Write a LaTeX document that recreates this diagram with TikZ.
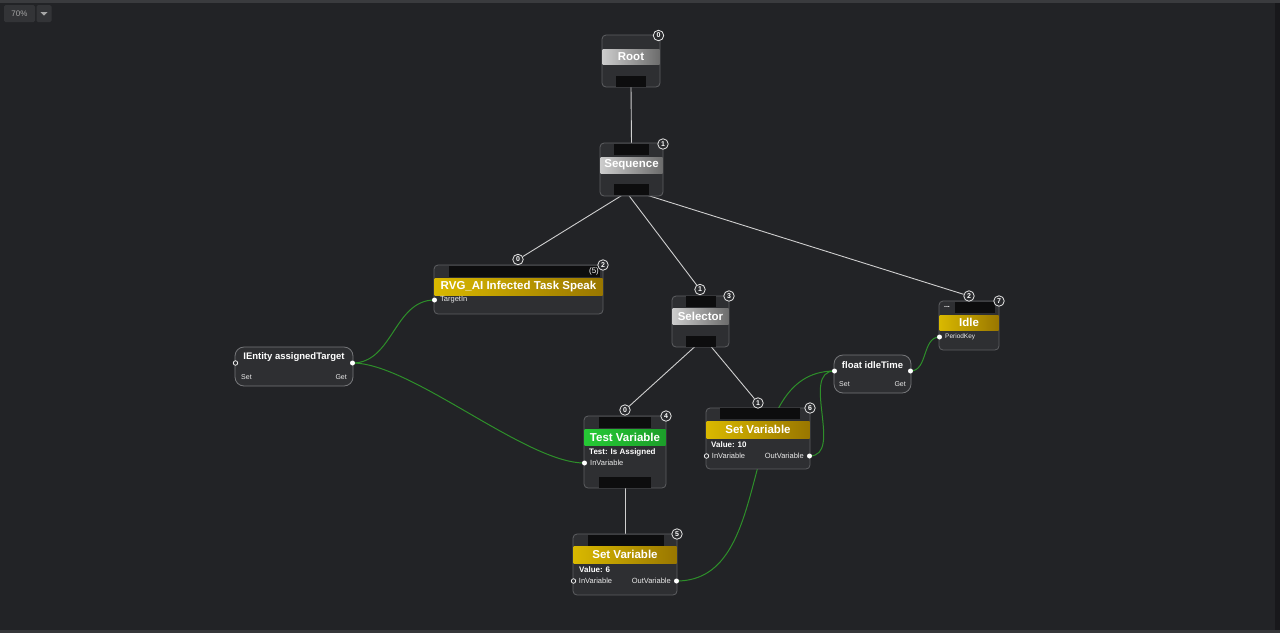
\documentclass[tikz,border=0pt]{standalone}
\usepackage{fontspec}
\setmainfont{Liberation Sans}
\usetikzlibrary{positioning}
\pgfdeclarelayer{bglayer}
\pgfdeclarelayer{background}
\pgfsetlayers{bglayer,background,main}
\definecolor{bgcol}{HTML}{222326}
\definecolor{barcol}{HTML}{3A3B3E}
\definecolor{boxfill}{HTML}{2E2F32}
\definecolor{boxline}{HTML}{5E5F62}
\definecolor{portcol}{HTML}{0D0D0E}
\definecolor{linkcol}{HTML}{CFCFCF}
\definecolor{wirecol}{HTML}{2E8F2A}
\definecolor{badgefill}{HTML}{2A2B2E}
\definecolor{btnfill}{HTML}{333437}
\definecolor{greenl}{HTML}{26C935}
\definecolor{greenr}{HTML}{1C9E2A}
\tikzset{
  box/.style={draw=boxline,fill=boxfill,rounded corners=4pt,line width=0.8pt,inner sep=0pt,outer sep=0pt},
  varbox/.style={box,rounded corners=9pt,draw=boxline!85!white},
  port/.style={fill=portcol,inner sep=0pt,outer sep=0pt,minimum height=11pt},
  ttl/.style={inner sep=0pt,outer sep=0pt,text=white,minimum height=16pt,font=\fontsize{11.5}{12}\selectfont\bfseries},
  gtitle/.style={ttl,left color=gray!40!white,right color=gray!85!black},
  ytitle/.style={ttl,minimum height=17pt,left color=yellow!70!orange!85!black,right color=yellow!55!orange!60!black},
  ntitle/.style={ttl,left color=greenl,right color=greenr},
  vttl/.style={inner sep=0pt,text=white,font=\fontsize{9.5}{10}\selectfont\bfseries},
  idx/.style={circle,draw=white!90!black,line width=0.8pt,fill=badgefill,inner sep=0pt,minimum size=10.5pt,text=white,font=\fontsize{7}{7}\selectfont\bfseries},
  pdot/.style={circle,fill=white,inner sep=0pt,outer sep=0pt,minimum size=5pt},
  hdot/.style={pdot,draw=white,fill=boxfill,line width=0.7pt,minimum size=4.5pt},
  lbl/.style={inner sep=0pt,text=white!92!black,font=\fontsize{7.5}{8}\selectfont},
  blbl/.style={inner sep=0pt,text=white,font=\fontsize{8}{9}\selectfont\bfseries},
  link/.style={draw=linkcol,line width=0.9pt},
  wire/.style={draw=wirecol,line width=1pt},
  btn/.style={fill=btnfill,inner sep=0pt,rounded corners=1.5pt,text=gray!70!white,font=\fontsize{8}{9}\selectfont},
}
\begin{document}
\begin{tikzpicture}[x=1pt,y=-1pt]
\begin{pgfonlayer}{bglayer}
\fill[bgcol] (0,0) rectangle (1280,633);
\fill[barcol] (0,0) rectangle (1280,2.5);
\fill[black!30!bgcol] (1275,2.5) rectangle (1280,633);
\fill[barcol!80!bgcol] (0,630) rectangle (1280,633);
\end{pgfonlayer}
\useasboundingbox (0,0) rectangle (1280,633);
% zoom button
\node[btn,minimum width=31pt,minimum height=17pt] (zoom) at (19.5,13.5) {70\%};
\node[btn,minimum width=15pt,minimum height=17pt] (zoomdd) at (44,13.5) {};
\fill[gray!70!white] (40.5,12) -- (47.5,12) -- (44,15.5) -- cycle;
% Root
\node[box,minimum width=58pt,minimum height=52pt] (root) at (631,61) {};
\node[gtitle,minimum width=57pt,minimum height=15pt] (root-t) at (631,56.5) {Root};
\node[port,minimum width=30pt] (root-out) at (631,81.5) {};
\node[idx] (root-idx) at (658.5,35.5) {0};
% Sequence
\node[box,minimum width=63pt,minimum height=53pt] (seq) at (631.5,169.5) {};
\node[port,minimum width=35pt] (seq-in) at (631.5,149.5) {};
\node[gtitle,minimum width=62pt] (seq-t) at (631.5,165) {Sequence};
\node[port,minimum width=35pt] (seq-out) at (631.5,189.5) {};
\node[idx] (seq-idx) at (663,144) {1};
% RVG task
\node[box,minimum width=169pt,minimum height=49pt] (rvg) at (518.5,289.5) {};
\node[port,minimum width=151pt] (rvg-in) at (524.5,271.5) {};
\node[inner sep=0pt,text=white,font=\fontsize{8}{9}\selectfont] (rvg-n) at (594,271.5) {(5)};
\node[ytitle,minimum width=168pt] (rvg-t) at (518.5,286.5) {RVG\_AI Infected Task Speak};
\node[pdot] (rvg-tin) at (434.5,300) {};
\node[lbl,anchor=west,right=3pt of rvg-tin] (rvg-tin-l) {TargetIn};
\node[idx] (rvg-idx) at (603,265) {2};
\node[idx] (rvg-pos) at (518,259.5) {0};
% Selector
\node[box,minimum width=57pt,minimum height=51pt] (sel) at (700.5,321.5) {};
\node[port,minimum width=30pt] (sel-in) at (701,301) {};
\node[gtitle,minimum width=56pt] (sel-t) at (700.5,316) {Selector};
\node[port,minimum width=30pt] (sel-out) at (701,341) {};
\node[idx] (sel-idx) at (729,296) {3};
\node[idx] (sel-pos) at (700,289.5) {1};
% Idle
\node[box,minimum width=60pt,minimum height=49pt] (idle) at (969,325.5) {};
\node[port,minimum width=40pt] (idle-in) at (975,307.5) {};
\node[inner sep=0pt,text=white,font=\fontsize{7}{7}\selectfont\bfseries] (idle-dots) at (947,306.5) {...};
\node[ytitle,minimum width=59pt,minimum height=15pt] (idle-t) at (969,322.5) {Idle};
\node[pdot] (idle-pk) at (939.5,337) {};
\node[lbl,right=3pt of idle-pk,font=\fontsize{6.5}{7}\selectfont] (idle-pk-l) {PeriodKey};
\node[idx] (idle-idx) at (999,301) {7};
\node[idx] (idle-pos) at (969,296) {2};
% IEntity assignedTarget
\node[varbox,minimum width=118pt,minimum height=39pt] (ie) at (294,366.5) {};
\node[vttl] (ie-t) at (294,357) {IEntity assignedTarget};
\node[hdot] (ie-set) at (235.5,363) {};
\node[pdot] (ie-get) at (352.5,363) {};
\node[lbl,anchor=west,font=\fontsize{7}{7}\selectfont] (ie-set-l) at (241,377) {Set};
\node[lbl,anchor=east,font=\fontsize{7}{7}\selectfont] (ie-get-l) at (347,377) {Get};
% float idleTime
\node[varbox,minimum width=77pt,minimum height=38pt] (fi) at (872.5,374) {};
\node[vttl] (fi-t) at (872.5,365) {float idleTime};
\node[pdot] (fi-set) at (834.5,371) {};
\node[pdot] (fi-get) at (910.5,371) {};
\node[lbl,anchor=west,font=\fontsize{7}{7}\selectfont] (fi-set-l) at (839,384) {Set};
\node[lbl,anchor=east,font=\fontsize{7}{7}\selectfont] (fi-get-l) at (906,384) {Get};
% Test Variable
\node[box,minimum width=82pt,minimum height=72pt] (tv) at (625,452) {};
\node[port,minimum width=52pt] (tv-in) at (625,422.5) {};
\node[ntitle,minimum width=81pt] (tv-t) at (625,437) {Test Variable};
\node[blbl,anchor=west] (tv-test) at (589,452) {Test: Is Assigned};
\node[pdot] (tv-var) at (584.5,463) {};
\node[lbl,right=3pt of tv-var] (tv-var-l) {InVariable};
\node[port,minimum width=52pt] (tv-out) at (625,482.5) {};
\node[idx] (tv-idx) at (666,416) {4};
\node[idx] (tv-pos) at (625,410) {0};
% Set Variable (Value: 10)
\node[box,minimum width=104pt,minimum height=61pt] (sva) at (758,438.5) {};
\node[port,minimum width=80pt] (sva-in) at (760,413.5) {};
\node[ytitle,minimum width=103pt] (sva-t) at (758,429.5) {Set Variable};
\node[blbl,anchor=west] (sva-val) at (711,445) {Value: 10};
\node[hdot] (sva-var) at (706.5,456) {};
\node[pdot] (sva-out) at (809.5,456) {};
\node[lbl,right=3pt of sva-var] (sva-var-l) {InVariable};
\node[lbl,left=3pt of sva-out] (sva-out-l) {OutVariable};
\node[idx] (sva-idx) at (810,408) {6};
\node[idx] (sva-pos) at (758,403) {1};
% Set Variable (Value: 6)
\node[box,minimum width=104pt,minimum height=61pt] (svb) at (625,564.5) {};
\node[port,minimum width=76pt] (svb-in) at (626,540) {};
\node[ytitle,minimum width=103pt] (svb-t) at (625,554.5) {Set Variable};
\node[blbl,anchor=west] (svb-val) at (579,570) {Value: 6};
\node[hdot] (svb-var) at (573.5,581) {};
\node[pdot] (svb-out) at (676.5,581) {};
\node[lbl,right=3pt of svb-var] (svb-var-l) {InVariable};
\node[lbl,left=3pt of svb-out] (svb-out-l) {OutVariable};
\node[idx] (svb-idx) at (677,534) {5};
% connectors
\begin{pgfonlayer}{background}
\draw[link] (root-out.south) -- (seq-in.north);
\draw[link] ([xshift=-9pt]seq-out.south) -- (rvg-pos);
\draw[link] ([xshift=-3pt]seq-out.south) -- (sel-pos);
\draw[link] ([xshift=15pt]seq-out.south) -- (idle-pos);
\draw[link] ([xshift=-6pt]sel-out.south) -- (tv-pos);
\draw[link] ([xshift=10pt]sel-out.south) -- (sva-pos);
\draw[link] (tv-out.south) -- (tv-out.south |- svb-in.north);
\draw[wire] (ie-get.center) to[out=0,in=180] (rvg-tin.center);
\draw[wire] (ie-get.center) to[out=0,in=180,looseness=0.6] (tv-var.center);
\draw[wire] (svb-out.center) to[out=0,in=180] (fi-set.center);
\draw[wire] (sva-out.center) to[out=0,in=180] (fi-set.center);
\draw[wire] (fi-get.center) to[out=0,in=180] (idle-pk.center);
\end{pgfonlayer}
\end{tikzpicture}
\end{document}
